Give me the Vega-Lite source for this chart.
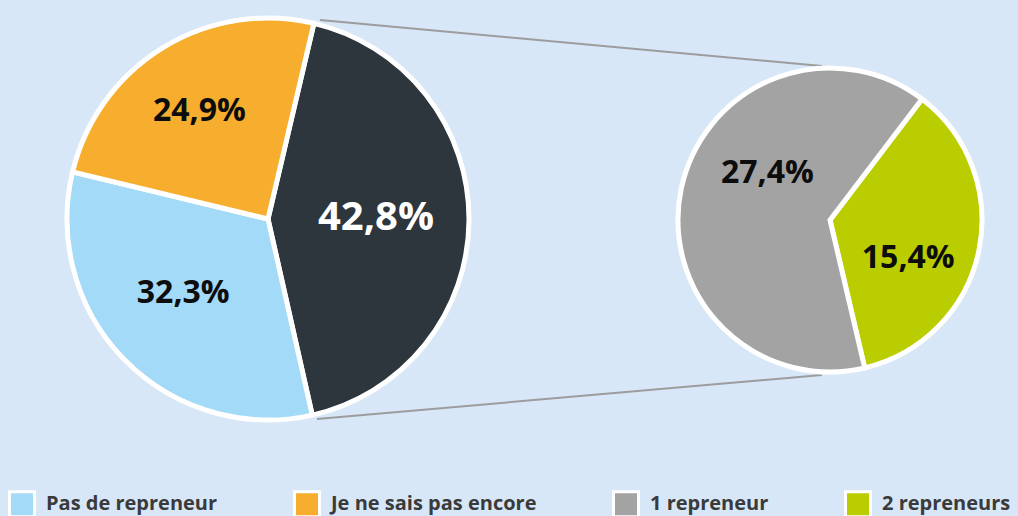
{
  "$schema": "https://vega.github.io/schema/vega-lite/v6.json",
  "width": 1018,
  "height": 516,
  "autosize": "none",
  "padding": 0,
  "background": "#D7E7F7",
  "config": {
    "view": {"stroke": null},
    "font": "Open Sans",
    "locale": {"number": {"decimal": ",", "thousands": " ", "grouping": [3], "currency": ["", " €"]}}
  },
  "datasets": {
    "principal": [
      {"categorie": "Un ou plusieurs repreneurs", "part": 0.428, "ordre": 1},
      {"categorie": "Pas de repreneur", "part": 0.323, "ordre": 2},
      {"categorie": "Je ne sais pas encore", "part": 0.249, "ordre": 3}
    ],
    "detail": [
      {"categorie": "2 repreneurs", "part": 0.154, "ordre": 1},
      {"categorie": "1 repreneur", "part": 0.274, "ordre": 2}
    ]
  },
  "resolve": {"scale": {"theta": "independent"}},
  "layer": [
    {
      "data": {"values": [{"lien": "haut"}]},
      "mark": {"type": "rule", "color": "#9c9c9c", "strokeWidth": 2},
      "encoding": {"x": {"value": 320}, "y": {"value": 20}, "x2": {"value": 822}, "y2": {"value": 66}}
    },
    {
      "data": {"values": [{"lien": "bas"}]},
      "mark": {"type": "rule", "color": "#9c9c9c", "strokeWidth": 2},
      "encoding": {"x": {"value": 317}, "y": {"value": 419}, "x2": {"value": 822}, "y2": {"value": 375}}
    },
    {
      "data": {"name": "principal"},
      "mark": {"type": "arc", "x": 268, "y": 219, "outerRadius": 201, "stroke": "white", "strokeWidth": 5, "opacity": 1},
      "encoding": {
        "theta": {"field": "part", "type": "quantitative", "stack": true, "scale": {"range": [0.2304, 6.5136]}},
        "order": {"field": "ordre", "type": "quantitative"},
        "color": {
          "field": "categorie",
          "type": "nominal",
          "scale": {
            "domain": ["Pas de repreneur", "Je ne sais pas encore", "1 repreneur", "2 repreneurs", "Un ou plusieurs repreneurs"],
            "range": ["#A2DAF7", "#F7AD2E", "#A3A3A3", "#BACD00", "#2D353D"]
          },
          "legend": {
            "orient": "none",
            "legendX": 8,
            "legendY": 490,
            "direction": "horizontal",
            "columns": 4,
            "values": ["Pas de repreneur", "Je ne sais pas encore", "1 repreneur", "2 repreneurs"],
            "title": null,
            "symbolType": "square",
            "symbolSize": 625,
            "symbolStrokeColor": "white",
            "symbolStrokeWidth": 3,
            "symbolOpacity": 1,
            "labelFont": "Open Sans",
            "labelFontSize": 20,
            "labelFontWeight": "bold",
            "labelColor": "#3a3a3a",
            "labelOffset": 10,
            "columnPadding": 70,
            "labelLimit": 400,
            "padding": 0
          }
        }
      }
    },
    {
      "data": {"name": "detail"},
      "mark": {"type": "arc", "x": 830, "y": 220, "outerRadius": 152, "stroke": "white", "strokeWidth": 5, "opacity": 1},
      "encoding": {
        "theta": {"field": "part", "type": "quantitative", "stack": true, "scale": {"range": [0.6503, 6.9335]}},
        "order": {"field": "ordre", "type": "quantitative"},
        "color": {"field": "categorie", "type": "nominal"}
      }
    },
    {
      "data": {"name": "principal"},
      "mark": {"type": "text", "x": 268, "y": 219, "radius": 108, "dy": -1, "font": "Open Sans", "fontSize": 40, "fontWeight": "bold", "color": "white", "align": "center", "baseline": "middle"},
      "encoding": {
        "theta": {"field": "part", "type": "quantitative", "stack": true, "scale": {"range": [0.2304, 6.5136]}},
        "order": {"field": "ordre", "type": "quantitative"},
        "text": {"condition": {"test": "datum.categorie === 'Un ou plusieurs repreneurs'", "field": "part", "type": "quantitative", "format": ".1%"}, "value": ""}
      }
    },
    {
      "data": {"name": "principal"},
      "mark": {"type": "text", "x": 268, "y": 219, "radius": 112, "dx": -5, "dy": -5, "font": "Open Sans", "fontSize": 32, "fontWeight": "bold", "color": "#0d0d0d", "align": "center", "baseline": "middle"},
      "encoding": {
        "theta": {"field": "part", "type": "quantitative", "stack": true, "scale": {"range": [0.2304, 6.5136]}},
        "order": {"field": "ordre", "type": "quantitative"},
        "text": {"condition": {"test": "datum.categorie === 'Pas de repreneur'", "field": "part", "type": "quantitative", "format": ".1%"}, "value": ""}
      }
    },
    {
      "data": {"name": "principal"},
      "mark": {"type": "text", "x": 268, "y": 219, "radius": 127, "dx": -2, "dy": 0, "font": "Open Sans", "fontSize": 32, "fontWeight": "bold", "color": "#0d0d0d", "align": "center", "baseline": "middle"},
      "encoding": {
        "theta": {"field": "part", "type": "quantitative", "stack": true, "scale": {"range": [0.2304, 6.5136]}},
        "order": {"field": "ordre", "type": "quantitative"},
        "text": {"condition": {"test": "datum.categorie === 'Je ne sais pas encore'", "field": "part", "type": "quantitative", "format": ".1%"}, "value": ""}
      }
    },
    {
      "data": {"name": "detail"},
      "mark": {"type": "text", "x": 830, "y": 220, "radius": 64, "dx": 0, "dy": -34, "font": "Open Sans", "fontSize": 32, "fontWeight": "bold", "color": "#0d0d0d", "align": "center", "baseline": "middle"},
      "encoding": {
        "theta": {"field": "part", "type": "quantitative", "stack": true, "scale": {"range": [0.6503, 6.9335]}},
        "order": {"field": "ordre", "type": "quantitative"},
        "text": {"condition": {"test": "datum.categorie === '1 repreneur'", "field": "part", "type": "quantitative", "format": ".1%"}, "value": ""}
      }
    },
    {
      "data": {"name": "detail"},
      "mark": {"type": "text", "x": 830, "y": 220, "radius": 80, "dx": 0, "dy": 21, "font": "Open Sans", "fontSize": 32, "fontWeight": "bold", "color": "#0d0d0d", "align": "center", "baseline": "middle"},
      "encoding": {
        "theta": {"field": "part", "type": "quantitative", "stack": true, "scale": {"range": [0.6503, 6.9335]}},
        "order": {"field": "ordre", "type": "quantitative"},
        "text": {"condition": {"test": "datum.categorie === '2 repreneurs'", "field": "part", "type": "quantitative", "format": ".1%"}, "value": ""}
      }
    }
  ]
}
